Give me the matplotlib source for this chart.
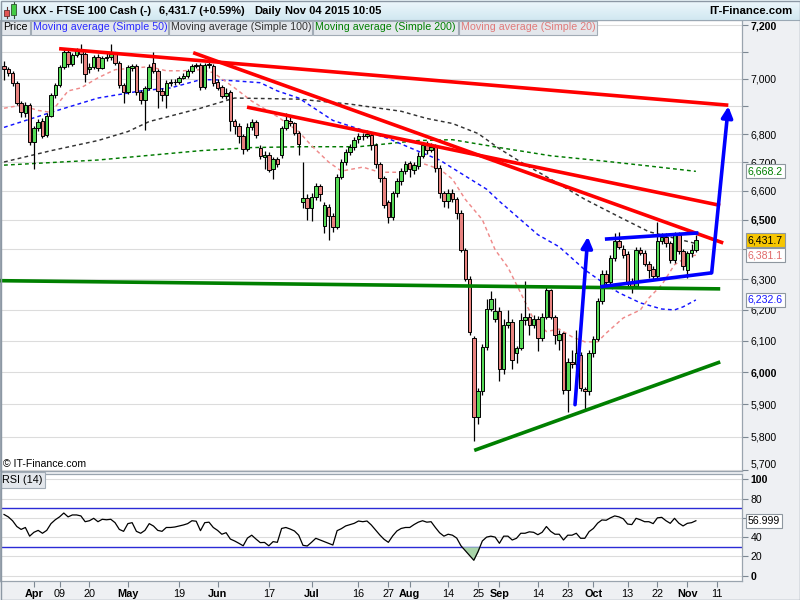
import numpy as np
import pandas as pd
import matplotlib
matplotlib.use("Agg")
import matplotlib.pyplot as plt
from matplotlib.patches import Rectangle
from matplotlib.ticker import FixedLocator, NullLocator, NullFormatter
from matplotlib.transforms import blended_transform_factory
from matplotlib.colors import LinearSegmentedColormap

plt.rcParams['font.family'] = ['Liberation Sans', 'DejaVu Sans']

# ---------------- data ----------------
first_day = "2015-03-23"

opens = [7047, 7035, 7023, 6985, 6913, 6875, 6905, 6772, 6822, 6846,
         6798, 6866, 6940, 6977, 7043, 7101, 7056, 7090, 7104, 7094,
         7035, 7043, 7081, 7041, 7076, 7081, 7091, 7060, 6979, 6952,
         7040, 7047, 6952, 6923, 6967, 7060, 7029, 6954, 6940, 6985,
         6990, 6990, 7004, 7010, 7029, 7052, 7050, 6970, 7050, 7048,
         6990, 6970, 6936, 6952, 6848, 6830, 6792, 6748, 6826, 6844,
         6750, 6718, 6726, 6676, 6712, 6726, 6820, 6846, 6838, 6805,
         6562, 6575, 6542, 6580, 6616, 6478, 6545, 6515, 6477, 6648,
         6700, 6737, 6755, 6784, 6794, 6794, 6795, 6760, 6693, 6645,
         6560, 6511, 6592, 6633, 6669, 6697, 6672, 6686, 6723, 6760,
         6745, 6755, 6680, 6592, 6564, 6594, 6571, 6525, 6399, 6302,
         6108, 5860, 5942, 6079, 6202, 6170, 6198, 6012, 6150, 6160,
         6060, 6076, 6168, 6178, 6150, 6172, 6110, 6176, 6264, 6178,
         6103, 6124, 5944, 6034, 6026, 6055, 5947, 5940, 6060, 6105,
         6228, 6318, 6293, 6371, 6427, 6400, 6385, 6290, 6280, 6399,
         6388, 6353, 6335, 6312, 6430, 6442, 6422, 6364, 6450, 6394,
         6330, 6388, 6397]

highs = [7066, 7045, 7030, 6992, 6920, 6917, 6912, 6830, 6855, 6856,
         6875, 6950, 6985, 7050, 7110, 7112, 7095, 7115, 7130, 7100,
         7060, 7090, 7092, 7085, 7095, 7128, 7100, 7065, 6985, 7050,
         7055, 7055, 6958, 6975, 7055, 7098, 7035, 6965, 6995, 7000,
         7000, 7012, 7020, 7035, 7055, 7060, 7058, 7058, 7075, 7056,
         6998, 6978, 6965, 6960, 6855, 6840, 6800, 6838, 6855, 6850,
         6760, 6740, 6735, 6720, 6720, 6828, 6875, 6862, 6845, 6810,
         6700, 6590, 6592, 6628, 6625, 6560, 6555, 6525, 6660, 6712,
         6748, 6765, 6790, 6805, 6805, 6815, 6805, 6768, 6700, 6652,
         6570, 6600, 6645, 6680, 6705, 6705, 6700, 6735, 6770, 6775,
         6770, 6765, 6690, 6600, 6605, 6605, 6580, 6535, 6405, 6310,
         6115, 5950, 6090, 6235, 6262, 6240, 6210, 6170, 6200, 6170,
         6085, 6190, 6295, 6190, 6185, 6180, 6190, 6275, 6270, 6185,
         6135, 6130, 6045, 6070, 6135, 6065, 5955, 6070, 6115, 6240,
         6330, 6330, 6380, 6455, 6460, 6415, 6395, 6305, 6410, 6410,
         6398, 6360, 6345, 6492, 6455, 6455, 6430, 6460, 6460, 6400,
         6395, 6420, 6450]

lows = [6997, 7010, 6975, 6905, 6862, 6860, 6760, 6676, 6812, 6785,
        6790, 6860, 6930, 6970, 7035, 7045, 7048, 7080, 7060, 6990,
        7020, 7035, 7030, 7035, 7065, 7070, 7050, 6965, 6912, 6945,
        7030, 6940, 6910, 6815, 6960, 7020, 6895, 6920, 6893, 6975,
        6978, 6982, 6998, 7005, 7020, 7040, 6960, 6962, 7042, 6975,
        6960, 6930, 6925, 6812, 6800, 6770, 6730, 6740, 6815, 6785,
        6712, 6675, 6665, 6640, 6685, 6715, 6815, 6830, 6795, 6724,
        6540, 6500, 6495, 6570, 6565, 6455, 6433, 6460, 6470, 6640,
        6690, 6725, 6745, 6770, 6780, 6785, 6745, 6680, 6630, 6540,
        6490, 6500, 6580, 6620, 6660, 6650, 6660, 6678, 6715, 6730,
        6735, 6665, 6575, 6545, 6540, 6560, 6505, 6390, 6295, 6120,
        5788, 5840, 5930, 6070, 6195, 6160, 5972, 5995, 6140, 6010,
        6030, 6070, 6150, 6120, 6140, 6068, 6100, 6170, 6170, 6090,
        6070, 5933, 5876, 6015, 6015, 5940, 5887, 5930, 6050, 6100,
        6220, 6285, 6285, 6360, 6400, 6370, 6280, 6255, 6275, 6380,
        6345, 6305, 6300, 6305, 6420, 6410, 6355, 6355, 6385, 6330,
        6305, 6375, 6390]

closes = [7035, 7023, 6985, 6913, 6878, 6905, 6772, 6822, 6844, 6794,
          6866, 6940, 6977, 7043, 7101, 7056, 7088, 7104, 7094, 7019,
          7043, 7081, 7041, 7076, 7081, 7091, 7060, 6979, 6952, 7043,
          7047, 6952, 6923, 6967, 7043, 7029, 6954, 6940, 6985, 6990,
          6988, 7004, 7010, 7029, 7047, 7047, 6970, 7050, 7055, 6985,
          6968, 6936, 6948, 6848, 6830, 6792, 6748, 6826, 6844, 6796,
          6722, 6726, 6672, 6712, 6694, 6820, 6850, 6838, 6805, 6766,
          6575, 6542, 6580, 6616, 6590, 6550, 6515, 6477, 6648, 6700,
          6737, 6755, 6778, 6794, 6792, 6800, 6760, 6693, 6645, 6553,
          6511, 6592, 6633, 6669, 6693, 6675, 6690, 6723, 6760, 6745,
          6755, 6680, 6592, 6564, 6594, 6571, 6525, 6399, 6302, 6130,
          5860, 5942, 6079, 6202, 6235, 6198, 6012, 6150, 6160, 6040,
          6076, 6168, 6178, 6150, 6172, 6110, 6176, 6264, 6178, 6120,
          6122, 5944, 6034, 6026, 6062, 5950, 5940, 6060, 6105, 6228,
          6318, 6293, 6371, 6427, 6410, 6382, 6290, 6280, 6399, 6388,
          6353, 6330, 6312, 6430, 6442, 6422, 6364, 6450, 6394, 6346,
          6388, 6397, 6431.7]

rsi14 = [63.5, 61, 57, 51, 48, 50, 41, 45, 47, 44,
         47, 54, 58, 61, 65, 61, 63, 63, 62, 56,
         57, 59.5, 56, 58.5, 58, 58.5, 55, 48, 46, 54,
         55, 46, 44, 47, 54, 51.5, 47, 46, 50, 50,
         50.5, 51.5, 52.6, 54, 57, 56.5, 46.7, 55, 55.5, 50,
         47, 43, 44.6, 38, 36, 33.6, 31, 39, 42, 38,
         34.3, 34.5, 31, 35.3, 34.6, 49, 50, 48.4, 46.4, 42,
         31.5, 30.8, 34.6, 38.8, 37, 35.3, 33.6, 31.8, 46.7, 48.8,
         51.6, 53, 54.3, 56.7, 56, 56.7, 52.6, 47.4, 42.2, 37.7,
         34.6, 41.2, 46.4, 49, 50, 50, 53, 55.5, 57, 55.5,
         56, 50, 44.5, 41, 43, 42, 39, 31, 26, 21,
         16, 25, 36, 40, 41, 40, 33.6, 41, 41, 37,
         38.8, 44, 44, 45.5, 45, 42.5, 45, 51, 46, 43,
         43, 37, 42, 42, 44, 38.8, 38.8, 45.7, 49, 54.5,
         57.8, 57.5, 60, 62, 61, 59, 53.6, 53, 59.5, 58,
         56, 56, 54, 60, 60.5, 57, 54.3, 59.5, 54.5, 51.6,
         54.3, 55, 56.999]

# moving averages read at selected sessions (session index, value)
ma20_x = [0, 4, 8, 11, 15, 18, 22, 26, 34, 38, 42, 46, 49, 54, 58, 64, 69, 72, 76, 79,
          84, 88, 93, 97, 102, 105, 108, 112, 115, 118, 121, 124, 127, 130, 133, 136,
          139, 141, 145, 149, 151, 154, 157, 160, 162]
ma20_y = [6893, 6904, 6885, 6878, 6956, 6967, 7004, 7034, 7045, 7030, 7030, 7034, 7023,
          6967, 6919, 6863, 6809, 6759, 6701, 6669, 6683, 6665, 6665, 6701, 6676, 6641,
          6571, 6501, 6399, 6340, 6255, 6170, 6130, 6138, 6113, 6097, 6097, 6125, 6174,
          6200, 6239, 6282, 6349, 6376, 6381.1]
ma50_x = [0, 11, 22, 32, 39, 46, 49, 54, 60, 64, 69, 77, 90, 97, 102, 108, 113, 116,
          125, 130, 136, 140, 144, 149, 154, 157, 159, 162]
ma50_y = [6824, 6878, 6930, 6956, 6967, 6997, 6997, 6993, 6986, 6956, 6930, 6849, 6784,
          6739, 6708, 6652, 6606, 6564, 6450, 6409, 6332, 6292, 6256, 6223, 6203, 6200,
          6210, 6232.6]
ma100_x = [0, 11, 22, 29, 34, 46, 54, 69, 81, 93, 99, 105, 111, 116, 121, 128, 136,
           144, 151, 162]
ma100_y = [6701, 6741, 6777, 6809, 6845, 6893, 6930, 6926, 6908, 6882, 6856, 6838,
           6802, 6748, 6701, 6641, 6571, 6511, 6460, 6420]
ma200_x = [0, 22, 46, 58, 69, 83, 97, 105, 116, 128, 140, 151, 162]
ma200_y = [6690, 6708, 6741, 6752, 6755, 6755, 6777, 6780, 6752, 6723, 6705, 6687, 6668.2]

# hand-drawn trend lines (session index, price)
red_x = [(12.9, 169.6), (44.3, 168.4), (56.9, 167.7)]
red_y = [(7112, 6904), (7097, 6422), (6897, 6550)]
green_x = [(-0.9, 167.7), (110.1, 167.7)]
green_y = [(6296, 6269), (5759, 6033)]
blue_x = [(140.7, 162.6), (139.6, 165.7)]
blue_y = [(6435, 6456), (6276, 6322)]
arrow_x = [(133.7, 136.7), (165.7, 169.6)]
arrow_y = [(5899, 6443), (6322, 6900)]

rsi_bands = [70, 30]

tick_days = ['2015-04-01', '2015-04-09', '2015-04-20', '2015-05-01', '2015-05-19',
             '2015-06-01', '2015-06-17', '2015-07-01', '2015-07-16', '2015-07-27',
             '2015-08-03', '2015-08-14', '2015-08-25', '2015-09-01', '2015-09-14',
             '2015-09-23', '2015-10-01', '2015-10-13', '2015-10-22', '2015-11-02',
             '2015-11-11']
tick_labels = ['Apr', '09', '20', 'May', '19', 'Jun', '17', 'Jul', '16', '27', 'Aug',
               '14', '25', 'Sep', '14', '23', 'Oct', '13', '22', 'Nov', '11']
month_names = {'Apr', 'May', 'Jun', 'Jul', 'Aug', 'Sep', 'Oct', 'Nov'}

price_ticks = list(range(5700, 7201, 100))
hidden_price_labels = {7100, 6900, 6400}
bold_price_labels = {7200, 6500, 6000}

# ---------------- derived ----------------
day_index = np.arange(len(closes))
axis_days = pd.bdate_range(first_day, "2015-11-30")
tick_pos = [axis_days.get_loc(pd.Timestamp(d)) for d in tick_days]

o = np.array(opens, float); h = np.array(highs, float)
l = np.array(lows, float); c = np.array(closes, float)
rsi = np.array(rsi14, float)

# ---------------- figure ----------------
fig = plt.figure(figsize=(8, 6), dpi=100, facecolor='#eef0f3')
ax = fig.add_axes([0.0, 1 - 471 / 600, 742 / 800, (471 - 20) / 600])
rax = fig.add_axes([0.0, 1 - 580.5 / 600, 742 / 800, 107 / 600], sharex=ax)

spine_col = '#9aa4ae'
for a in (ax, rax):
    a.set_facecolor('white')
    for s in a.spines.values():
        s.set_color(spine_col)
        s.set_linewidth(0.9)

# moving averages
dash = (0, (2.6, 2.2))
ax.plot(ma200_x, ma200_y, color='#007a00', lw=1.05, ls=dash, zorder=2)
ax.plot(ma100_x, ma100_y, color='#333333', lw=1.05, ls=dash, zorder=2)
ax.plot(ma50_x, ma50_y, color='#1414ff', lw=1.05, ls=dash, zorder=2)
ax.plot(ma20_x, ma20_y, color='#ef8a8a', lw=1.05, ls=dash, zorder=2)

# candles
up = c >= o
lo_b = np.minimum(o, c)
hgt = np.maximum(np.abs(c - o), 1.5)
ax.vlines(day_index, l, h, colors='black', lw=0.9, zorder=3)
ax.bar(day_index[up], hgt[up], bottom=lo_b[up], width=0.82, color='#55d955',
       edgecolor='black', linewidth=0.7, zorder=4)
ax.bar(day_index[~up], hgt[~up], bottom=lo_b[~up], width=0.82, color='#e8827f',
       edgecolor='black', linewidth=0.7, zorder=4)

# trend lines
for xs, ys in zip(red_x, red_y):
    ax.plot(xs, ys, color='#ff0000', lw=2.6, solid_capstyle='butt', zorder=6)
for xs, ys in zip(green_x, green_y):
    ax.plot(xs, ys, color='#008000', lw=2.6, solid_capstyle='butt', zorder=6)
for xs, ys in zip(blue_x, blue_y):
    ax.plot(xs, ys, color='#0000ff', lw=2.6, solid_capstyle='butt', zorder=6)
for xs, ys in zip(arrow_x, arrow_y):
    ax.annotate('', xy=(xs[1], ys[1]), xytext=(xs[0], ys[0]),
                arrowprops=dict(arrowstyle='-|>,head_length=0.65,head_width=0.33',
                                color='#0000ff', lw=2.6, shrinkA=0, shrinkB=0),
                zorder=6)

# price axis
ax.set_yscale('log')
ax.set_ylim(5697, 7220)
ax.set_xlim(-0.94, 172.8)
ax.yaxis.tick_right()
ax.set_yticks(price_ticks)
ax.yaxis.set_minor_locator(NullLocator())
ax.yaxis.set_minor_formatter(NullFormatter())
ax.set_yticklabels(["" if v in hidden_price_labels else f"{v:,}" for v in price_ticks])
for v, t in zip(price_ticks, ax.get_yticklabels()):
    if v in bold_price_labels:
        t.set_fontweight('bold')
    if v == 5700:
        t.set_va('bottom')
ax.tick_params(axis='y', which='major', direction='out', length=4, width=0.8,
               color='#7d8893', labelsize=7.6, pad=2)
ax.tick_params(axis='x', bottom=False, labelbottom=False)
ax.grid(axis='y', color='#dcdcdc', lw=0.8)
ax.set_axisbelow(True)

ax.text(0.004, (471 - 464) / 451, '\u00a9 IT-Finance.com', transform=ax.transAxes,
        fontsize=7.6, va='center', ha='left', color='black')

# badges
def badge(axis, yval, txt, fc, tc):
    tr = blended_transform_factory(axis.transAxes, axis.transData)
    axis.annotate(txt, xy=(1, yval), xycoords=tr, xytext=(6, 0),
                  textcoords='offset pixels', ha='left', va='center', fontsize=7.6,
                  color=tc, annotation_clip=False, zorder=30,
                  bbox=dict(boxstyle='square,pad=0.2', fc=fc, ec='#8e979f', lw=0.8))

badge(ax, ma200_y[-1], f"{ma200_y[-1]:,.1f}", 'white', '#008000')
badge(ax, closes[-1], f"{closes[-1]:,.1f}", '#f7c600', 'black')
badge(ax, ma20_y[-1], f"{ma20_y[-1]:,.1f}", 'white', '#e06a6a')
badge(ax, ma50_y[-1], f"{ma50_y[-1]:,.1f}", 'white', '#1414ff')

# RSI panel
rax.plot(day_index, rsi, color='black', lw=0.9, zorder=4)
rax.fill_between(day_index, rsi, 30, where=rsi < 30, interpolate=True,
                 color='#a9d5a9', lw=0, zorder=3)
for b in rsi_bands:
    rax.axhline(b, color='#2b2bd6', lw=1.0, zorder=2)
rax.set_ylim(-5.0, 106.0)
rax.yaxis.tick_right()
rax.set_yticks([0, 20, 40, 60, 80, 100])
rax.set_yticklabels(['0', '20', '40', '', '80', '100'])
for t in rax.get_yticklabels():
    if t.get_text() in ('0', '100'):
        t.set_fontweight('bold')
rax.tick_params(axis='y', direction='out', length=4, width=0.8, color='#7d8893',
                labelsize=7.6, pad=2)
rax.grid(axis='y', color='#dcdcdc', lw=0.8)
rax.set_axisbelow(True)
rax.set_xticks(tick_pos)
rax.set_xticklabels(tick_labels)
for t in rax.get_xticklabels():
    if t.get_text() in month_names:
        t.set_fontweight('bold')
        t.set_fontsize(8.4)
rax.tick_params(axis='x', direction='out', length=4, width=0.8, color='#7d8893',
                labelsize=7.8, pad=2)
rax.text(0.003, 0.985, 'RSI (14)', transform=rax.transAxes, fontsize=7.8, va='top',
         ha='left', bbox=dict(boxstyle='square,pad=0.25', fc='#e3e7ec', ec='#a2acb6', lw=0.8),
         zorder=10)
badge(rax, rsi[-1], f"{rsi[-1]:.3f}", 'white', 'black')

# ---------------- header overlay (pixel coordinates) ----------------
ov = fig.add_axes([0, 0, 1, 1], zorder=20)
ov.patch.set_alpha(0)
grad = np.linspace(0, 1, 20).reshape(-1, 1)
cmap = LinearSegmentedColormap.from_list('hdr', ['#eef8fc', '#d2e8f1'])
ov.imshow(grad, extent=(0, 800, 20, 0), cmap=cmap, aspect='auto', zorder=1)
ov.plot([0, 800], [20, 20], color='#9aa8b4', lw=0.8, zorder=2)
ov.set_xlim(0, 800)
ov.set_ylim(600, 0)
ov.axis('off')

# little candle icon
ov.plot([6.5, 6.5], [7, 18], color='#603030', lw=0.8, zorder=3)
ov.add_patch(Rectangle((4, 10), 5, 6, fc='#e05555', ec='#603030', lw=0.6, zorder=4))
ov.plot([13.5, 13.5], [1, 18], color='#305030', lw=0.8, zorder=3)
ov.add_patch(Rectangle((11, 4), 5, 11, fc='#44cc44', ec='#305030', lw=0.6, zorder=4))

hdr_kw = dict(fontsize=8.0, fontweight='bold', va='center', ha='left', color='black', zorder=5)
ov.text(23, 10.5, 'UKX - FTSE 100 Cash (-)', **hdr_kw)
ov.text(159, 10.5, f"{closes[-1]:,.1f} (+0.59%)", **hdr_kw)
ov.text(254, 10.5, 'Daily', **hdr_kw)
ov.text(285, 10.5, 'Nov 04 2015 10:05', **hdr_kw)
ov.text(792, 10.5, 'IT-Finance.com', fontsize=8.2, fontweight='bold', va='center',
        ha='right', color='black', zorder=5)

legend_items = [('Price', 'black'),
                ('Moving average (Simple 50)', '#2b2bff'),
                ('Moving average (Simple 100)', '#333333'),
                ('Moving average (Simple 200)', '#008000'),
                ('Moving average (Simple 20)', '#e07a7a')]
legend_edges = [0, 30, 168, 312, 458, 597]
for (txt, col), x0, x1 in zip(legend_items, legend_edges[:-1], legend_edges[1:]):
    ov.add_patch(Rectangle((x0 + 0.5, 20.5), x1 - x0 - 1, 14, fc='#e3e7ec',
                           ec='#a2acb6', lw=0.8, zorder=3))
    ov.text(x0 + 3, 27.5, txt, fontsize=7.7, color=col, va='center', ha='left', zorder=5)

ov.add_patch(Rectangle((0.5, 0.5), 799, 599, fill=False, ec='#8c98a4', lw=1, zorder=6))

fig.savefig('out.png', dpi=100, facecolor=fig.get_facecolor())
